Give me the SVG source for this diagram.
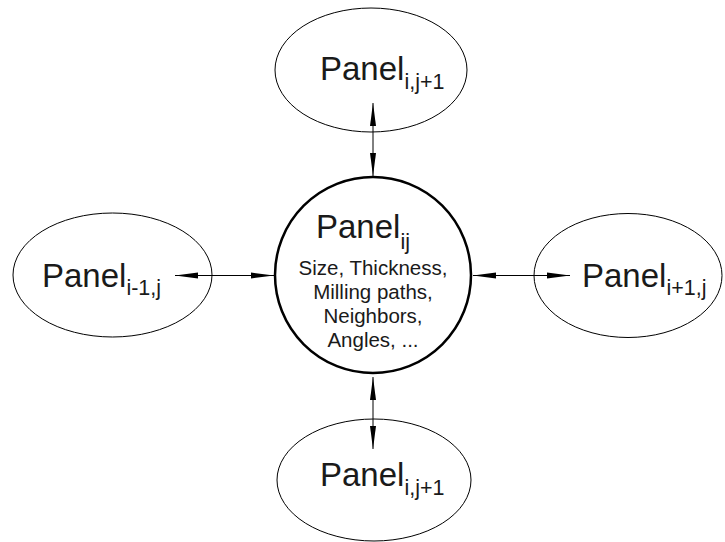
<svg xmlns="http://www.w3.org/2000/svg" width="725" height="542" viewBox="0 0 725 542">
<style>
.ell{fill:none;stroke:#000;stroke-width:1}
.main{fill:none;stroke:#000;stroke-width:2.5}
.t{font-family:"Liberation Sans",Arial,sans-serif;fill:#1a1a1a}
.big{font-size:33px}
.sub{font-size:21.5px}
.body{font-size:20.5px;text-anchor:middle}
.con{stroke:#000;stroke-width:1;fill:none}
</style>
<defs>
<marker id="ah" markerUnits="userSpaceOnUse" markerWidth="24" markerHeight="8" viewBox="0 0 24 8" refX="23" refY="4" orient="auto-start-reverse">
<path d="M0,1 L23,4 L0,7 Z" fill="#000"/>
</marker>
</defs>
<g id="n-top">
<ellipse class="ell" cx="371" cy="70" rx="96" ry="62"/>
<text class="t big" x="320" y="80">Panel<tspan class="sub" dy="9">i,j+1</tspan></text>
</g>
<g id="n-center">
<circle class="main" cx="373" cy="275" r="98"/>
<text class="t big" x="316" y="238">Panel<tspan class="sub" dy="11">ij</tspan></text>
<text class="t body" x="373" y="275">Size, Thickness,</text>
<text class="t body" x="373" y="299">Milling paths,</text>
<text class="t body" x="373" y="323">Neighbors,</text>
<text class="t body" x="373" y="347">Angles, ...</text>
</g>
<g id="n-left">
<ellipse class="ell" cx="112.5" cy="275" rx="99.5" ry="62"/>
<text class="t big" x="42" y="287">Panel<tspan class="sub" dy="8">i-1,j</tspan></text>
</g>
<g id="n-right">
<ellipse class="ell" cx="628" cy="275.5" rx="94" ry="62"/>
<text class="t big" x="582" y="287">Panel<tspan class="sub" dy="8">i+1,j</tspan></text>
</g>
<g id="n-bottom">
<ellipse class="ell" cx="374" cy="480" rx="97" ry="61"/>
<text class="t big" x="320" y="486">Panel<tspan class="sub" dy="9">i,j+1</tspan></text>
</g>
<g id="connectors">
<line class="con" x1="373" y1="103" x2="373" y2="176" marker-start="url(#ah)" marker-end="url(#ah)"/>
<line class="con" x1="373" y1="377" x2="373" y2="449" marker-start="url(#ah)" marker-end="url(#ah)"/>
<line class="con" x1="175" y1="275.5" x2="274" y2="275.5" marker-start="url(#ah)" marker-end="url(#ah)"/>
<line class="con" x1="473" y1="275.5" x2="570" y2="275.5" marker-start="url(#ah)" marker-end="url(#ah)"/>
</g>
</svg>
